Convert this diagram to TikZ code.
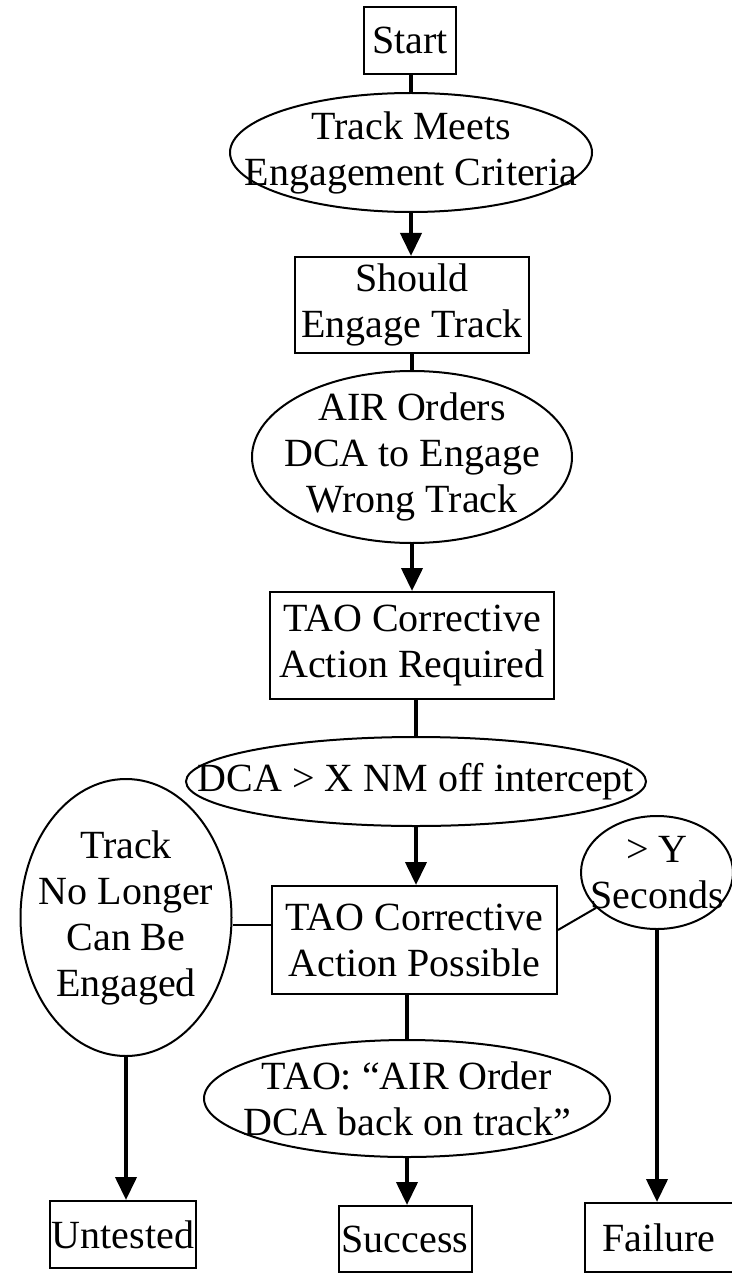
\documentclass[tikz,border=0pt]{standalone}
\usepackage{fontspec}
\setmainfont{Liberation Serif}
\usetikzlibrary{shapes.geometric,arrows.meta}
\begin{document}
\begin{tikzpicture}[x=1pt,y=-1pt,
  box/.style={draw,line width=2pt,rectangle,inner sep=0pt},
  oval/.style={draw,line width=2pt,ellipse,inner sep=0pt},
  txt/.style={align=center,inner sep=0pt,font=\fontsize{40}{46}\selectfont},
  link/.style={line width=4pt},
  thinlink/.style={line width=2pt},
  arr/.style={line width=4pt,-{Triangle[length=23pt,width=21pt]}}]
\useasboundingbox (0,0) rectangle (731,1273);

% shapes
\node[box,minimum width=92pt,minimum height=67pt] (start) at (410,40.5) {};
\node[oval,minimum width=362pt,minimum height=119pt] (e1) at (411,152.5) {};
\node[box,minimum width=234pt,minimum height=96pt] (b2) at (412,305) {};
\node[oval,minimum width=320pt,minimum height=172pt] (e2) at (412,457) {};
\node[box,minimum width=284pt,minimum height=107pt] (b3) at (412,645.5) {};
\node[oval,minimum width=460pt,minimum height=89pt] (e4) at (416,781.5) {};
\node[box,minimum width=285pt,minimum height=108pt] (b5) at (414.5,940) {};
\node[oval,minimum width=211pt,minimum height=277pt] (eL) at (126,917.5) {};
\node[oval,minimum width=152pt,minimum height=113pt] (eS) at (657,872.5) {};
\node[oval,minimum width=406pt,minimum height=117pt] (e6) at (407,1098.5) {};
\node[box,minimum width=146pt,minimum height=67pt] (untested) at (123,1234.5) {};
\node[box,minimum width=133pt,minimum height=66pt] (success) at (405,1239) {};
\node[box,minimum width=148pt,minimum height=69pt] (failure) at (659,1237.5) {};

% labels
\node[txt] at (start) {Start};
\node[txt] at (e1) {Track Meets\\Engagement Criteria};
\node[txt] at (b2) {Should\\Engage Track};
\node[txt] at (e2) {AIR Orders\\DCA to Engage\\Wrong Track};
\node[txt] at (b3) {TAO Corrective\\Action Required};
\node[txt] at (e4) {DCA > X NM off intercept};
\node[txt] at (b5) {TAO Corrective\\Action Possible};
\node[txt] at (eL) {Track\\No Longer\\Can Be\\Engaged};
\node[txt] at (eS) {> Y\\Seconds};
\node[txt] at (e6) {TAO: “AIR Order\\DCA back on track”};
\node[txt] at (untested) {Untested};
\node[txt] at (success) {Success};
\node[txt] at (failure) {Failure};

% connectors (kept vertical by dropping from the upper shape)
\draw[link] (start.south -| e1.north) -- (e1.north);
\draw[arr] (e1.south) -- (e1.south |- b2.north);
\draw[link] (b2.south -| e2.north) -- (e2.north);
\draw[arr] (e2.south) -- (e2.south |- b3.north);
\draw[link] (b3.south -| e4.north) -- (e4.north);
\draw[arr] (e4.south) -- (e4.south |- b5.north);
\draw[thinlink] (b5.174.4) -- (b5.174.4 -| eL.east);
\draw[thinlink] (b5.4.8) -- (eS);
\draw[link] (b5.south -| e6.north) -- (e6.north);
\draw[arr] (eL.south) -- (eL.south |- untested.north);
\draw[arr] (e6.south) -- (e6.south |- success.north);
\draw[arr] (eS.south) -- (eS.south |- failure.north);
\end{tikzpicture}
\end{document}
